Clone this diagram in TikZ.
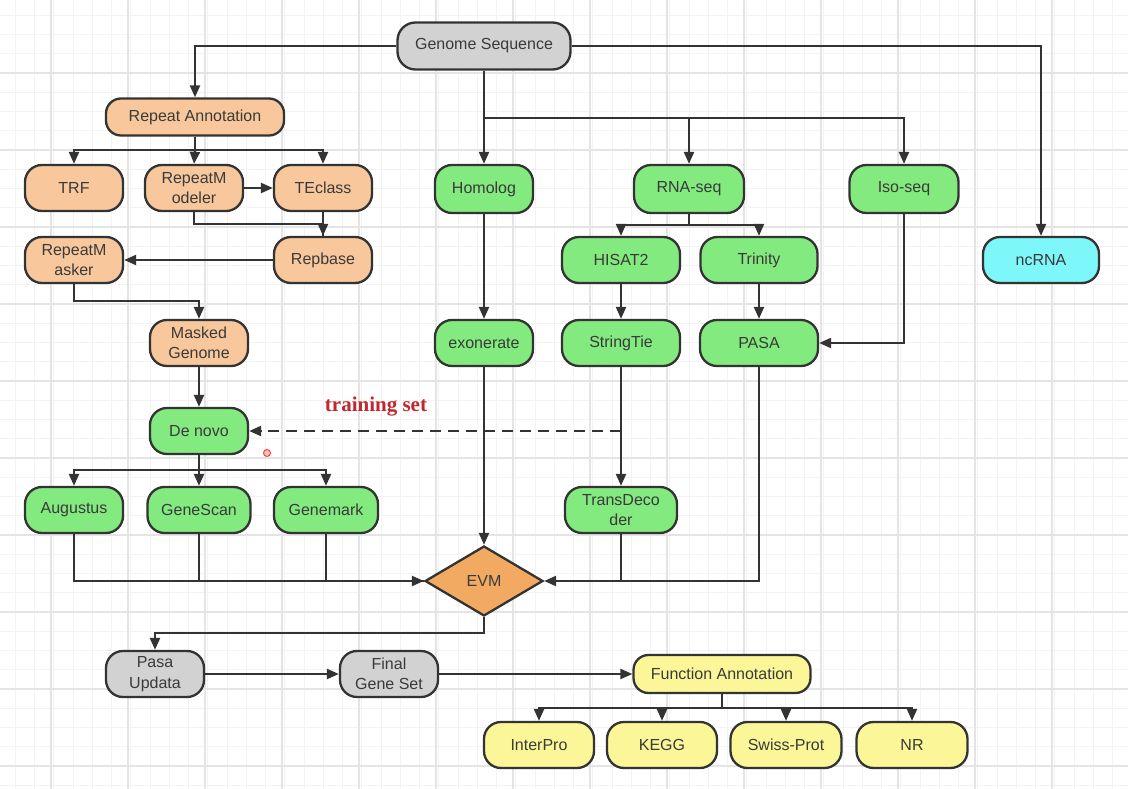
\documentclass[tikz,border=0pt]{standalone}
\usepackage{fontspec}
\setmainfont{Liberation Sans}
\newfontfamily\serifbold{Liberation Serif}
\usetikzlibrary{shapes.geometric,arrows.meta}
\definecolor{gfill}{HTML}{82EA7E}
\definecolor{ofill}{HTML}{F8C89C}
\definecolor{grayfill}{HTML}{D2D2D2}
\definecolor{cfill}{HTML}{7DF7FA}
\definecolor{yfill}{HTML}{FBF798}
\definecolor{evmfill}{HTML}{F2AA62}
\definecolor{edge}{HTML}{333333}
\definecolor{txt}{HTML}{3A3A3A}
\definecolor{redtxt}{HTML}{C1272D}
\definecolor{gridminor}{HTML}{F3F3F3}
\definecolor{gridmajor}{HTML}{E4E4E4}
\tikzset{
  box/.style={draw=edge, line width=2.3pt, rounded corners=17pt, minimum width=98pt, minimum height=46pt, align=center, font=\fontsize{16}{20.5}\selectfont, text=txt, inner sep=2pt},
  thinbox/.style={box, minimum height=37pt, rounded corners=15pt},
  gbox/.style={box, fill=gfill},
  obox/.style={box, fill=ofill},
  graybox/.style={box, fill=grayfill},
  cbox/.style={box, fill=cfill},
  ybox/.style={box, fill=yfill},
  conn/.style={draw=edge, line width=2.3pt},
  arr/.style={conn, -{Triangle[length=12pt,width=10pt]}},
}
\begin{document}
\begin{tikzpicture}[x=1pt,y=-1pt]
\useasboundingbox (0,0) rectangle (1128,789);
\fill[white] (0,0) rectangle (1128,789);
% grid
\foreach \i in {0,...,60} {
  \draw[gridminor, line width=0.9pt] ({-4+19.25*\i},0) -- ({-4+19.25*\i},789);
}
\foreach \i in {0,...,42} {
  \draw[gridminor, line width=0.9pt] (0,{-4+19.25*\i}) -- (1128,{-4+19.25*\i});
}
\foreach \i in {0,...,15} {
  \draw[gridmajor, line width=1.1pt] ({-26+77*\i},0) -- ({-26+77*\i},789);
}
\foreach \i in {0,...,10} {
  \draw[gridmajor, line width=1.1pt] (0,{-4+77*\i}) -- (1128,{-4+77*\i});
}

% nodes
\node[graybox, minimum width=173pt, minimum height=47pt, rounded corners=18pt] (gs) at (484,46) {Genome Sequence};
\node[obox, thinbox, fill=ofill, minimum width=178pt] (ra) at (195,117) {Repeat Annotation};
\node[obox] (trf) at (74,188) {TRF};
\node[obox] (rmod) at (194,188) {RepeatM\\odeler};
\node[obox] (tec) at (323,188) {TEclass};
\node[obox] (rmask) at (74,260) {RepeatM\\asker};
\node[obox] (rep) at (323,260) {Repbase};
\node[obox] (mg) at (199,343) {Masked\\Genome};
\node[gbox] (dn) at (199,431) {De novo};
\node[gbox] (aug) at (74,510) {Augustus};
\node[gbox, minimum width=103pt] (gsc) at (199,510) {GeneScan};
\node[gbox, minimum width=104pt] (gmk) at (326,510) {Genemark};
\node[gbox, minimum height=48pt] (hom) at (484,189) {Homolog};
\node[gbox, minimum width=110pt, minimum height=48pt] (rna) at (689,189) {RNA-seq};
\node[gbox, minimum width=109pt, minimum height=48pt] (iso) at (904,189) {Iso-seq};
\node[cbox, minimum width=116pt] (nc) at (1041,260) {ncRNA};
\node[gbox, minimum width=118pt] (his) at (621,260) {HISAT2};
\node[gbox, minimum width=117pt] (tri) at (759,260) {Trinity};
\node[gbox] (exo) at (484,343) {exonerate};
\node[gbox, minimum width=118pt] (st) at (621,343) {StringTie};
\node[gbox, minimum width=118pt] (pasa) at (759,343) {PASA};
\node[gbox, minimum width=112pt] (td) at (621,510) {TransDeco\\der};
\node[draw=edge, line width=2.3pt, fill=evmfill, diamond, aspect=1.7, minimum width=118pt, minimum height=70pt, inner sep=0pt, font=\fontsize{16}{20}\selectfont, text=txt] (evm) at (484,581) {EVM};
\node[graybox] (pu) at (155,674) {Pasa\\Updata};
\node[graybox] (fgs) at (389,674) {Final\\Gene Set};
\node[ybox, thinbox, fill=yfill, minimum width=177pt, minimum height=38pt] (fa) at (722,674) {Function Annotation};
\node[ybox, minimum width=110pt] (ip) at (539,745) {InterPro};
\node[ybox, minimum width=110pt] (kegg) at (662,745) {KEGG};
\node[ybox, minimum width=111pt] (sp) at (786,745) {Swiss-Prot};
\node[ybox, minimum width=111pt] (nr) at (912,745) {NR};
\node[font=\serifbold\bfseries\fontsize{21}{24}\selectfont, text=redtxt] (ts) at (376,407) {training set};
\node[circle, draw=red!75, fill=red!25, line width=1pt, minimum size=7pt, inner sep=0pt] (dot) at (267,453) {};

% coordinates
\coordinate (gsb) at (484,118);
\coordinate (rab) at (195,150);
\coordinate (rmb) at (194,224);
\coordinate (rmkb) at (74,301);
\coordinate (dnb) at (199,470);
\coordinate (rnab) at (689,225);
\coordinate (fab) at (722,708);
\coordinate (evmb) at (484,633);
\coordinate (tsend) at (621,431);

% genome sequence
\draw[arr] (gs.west) -| (ra.north);
\draw[arr] (gs.east) -| (nc.north);
\draw[conn] (gs.south) -- (gsb);
\draw[arr] (gsb) -- (hom.north);
\draw[arr] (gsb) -| (rna.north);
\draw[arr] (gsb) -| (iso.north);

% repeat annotation
\draw[conn] (ra.south) -- (rab);
\draw[arr] (rab) -| (trf.north);
\draw[arr] (rab) -- (rmod.north);
\draw[arr] (rab) -| (tec.north);
\draw[arr] (rmod.east) -- (tec.west);
\draw[conn] (rmod.south) |- (rmb) -| (rep.north);
\draw[arr] (tec.south) -- (rep.north);
\draw[arr] (rep.west) -- (rmask.east);
\draw[arr] (rmask.south) |- (rmkb) -| (mg.north);
\draw[arr] (mg.south) -- (dn.north);
\draw[conn] (dn.south) -- (dnb);
\draw[arr] (dnb) -| (aug.north);
\draw[arr] (dnb) -- (gsc.north);
\draw[arr] (dnb) -| (gmk.north);
\draw[conn] (aug.south) |- (evm.west);
\draw[conn] (gsc.south) -- (gsc.south |- evm.west);
\draw[conn] (gmk.south) -- (gmk.south |- evm.west);
\draw[arr] (gmk.south |- evm.west) -- (evm.west);

% homolog
\draw[arr] (hom.south) -- (exo.north);
\draw[arr] (exo.south) -- (evm.north);

% RNA-seq
\draw[conn] (rna.south) -- (rnab);
\draw[arr] (rnab) -| (his.north);
\draw[arr] (rnab) -| (tri.north);
\draw[arr] (his.south) -- (st.north);
\draw[arr] (st.south) -- (td.north);
\draw[arr] (tri.south) -- (pasa.north);
\draw[arr] (iso.south) |- (pasa.east);
\draw[conn] (td.south) -- (td.south |- evm.east);
\draw[arr] (pasa.south) |- (evm.east);

% training set
\draw[draw=edge, line width=2.3pt, dash pattern=on 11pt off 7pt, -{Triangle[length=12pt,width=10pt]}] (tsend) -- (dn.east);

% post
\draw[arr] (evm.south) -- (evmb) -| (pu.north);
\draw[arr] (pu.east) -- (fgs.west);
\draw[arr] (fgs.east) -- (fa.west);
\draw[conn] (fa.south) -- (fab);
\draw[arr] (fab) -| (ip.north);
\draw[arr] (fab) -| (kegg.north);
\draw[arr] (fab) -| (sp.north);
\draw[arr] (fab) -| (nr.north);
\end{tikzpicture}
\end{document}
